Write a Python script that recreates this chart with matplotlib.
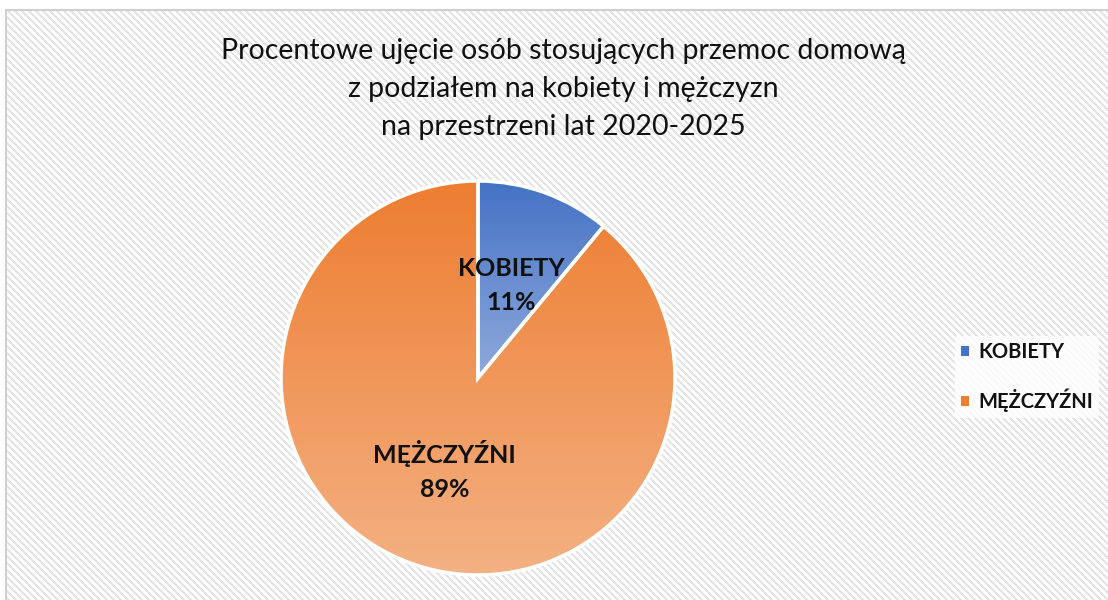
import numpy as np
import matplotlib
matplotlib.use('Agg')
import matplotlib.pyplot as plt
from matplotlib.lines import Line2D
from matplotlib.colors import to_rgb

plt.rcParams['font.family'] = ['Lato', 'DejaVu Sans']

# data
categories = ['KOBIETY', 'MĘŻCZYŹNI']
values = [11, 89]
top_colors = ['#4472C4', '#ED7D31']
bottom_colors = ['#8FAADC', '#F4B183']
title = ('Procentowe ujęcie osób stosujących przemoc domową\n'
         'z podziałem na kobiety i mężczyzn\n'
         'na przestrzeni lat 2020-2025')

W, H = 1108, 600
fig = plt.figure(figsize=(W / 100, H / 100), dpi=100)
fig.patch.set_facecolor('white')

# hatched chart-area background (starts at x=6, y=10)
bx, by = 6, 10
yy, xx = np.mgrid[0:H - by, 0:W - bx]
stripe = ((xx - yy) % 7) < 3
bg = np.ones((H - by, W - bx, 3))
bg[stripe] = to_rgb('#e4e4e4')
fig.figimage(bg, xo=bx, yo=0, origin='upper', zorder=-5)
fig.add_artist(Line2D([bx / W, 1], [1 - by / H, 1 - by / H], color='#d0d0d0', lw=1.5,
                      transform=fig.transFigure, zorder=-4))
fig.add_artist(Line2D([bx / W, bx / W], [0, 1 - by / H], color='#d0d0d0', lw=1.5,
                      transform=fig.transFigure, zorder=-4))

# pie axes
cx, cy, r = 478, 378, 197
ax = fig.add_axes([(cx - r) / W, (H - cy - r) / H, 2 * r / W, 2 * r / H])
ax.set_facecolor('none')
ax.set_axis_off()

wedges, _ = ax.pie(values, startangle=90, counterclock=False, radius=1,
                   colors=top_colors,
                   wedgeprops=dict(edgecolor='white', linewidth=2.5))

for w, c0, c1, lab, v in zip(wedges, top_colors, bottom_colors, categories, values):
    ext = w.get_path().get_extents()
    t = np.linspace(0, 1, 256)[:, None]
    grad = (1 - t) * np.array(to_rgb(c0)) + t * np.array(to_rgb(c1))
    im = ax.imshow(grad[:, None, :], extent=[ext.x0, ext.x1, ext.y0, ext.y1],
                   origin='upper', aspect='auto', zorder=1, interpolation='bilinear')
    im.set_clip_path(w)
    w.set_facecolor('none')
    w.set_zorder(2)
    ang = np.deg2rad((w.theta1 + w.theta2) / 2)
    ax.text(0.5 * np.cos(ang), 0.5 * np.sin(ang), f'{lab}\n{v}%', ha='center', va='center',
            fontsize=18, fontweight='bold', color='#111111', linespacing=1.55, zorder=3)

ax.set_xlim(-1.0, 1.0)
ax.set_ylim(-1.0, 1.0)

fig.text(563 / W, 1 - 89 / H, title, ha='center', va='center', fontsize=20.5,
         color='#111111', linespacing=1.55)

handles = [plt.Rectangle((0, 0), 1, 1, facecolor=c, edgecolor='none') for c in top_colors]
leg = fig.legend(handles, categories, loc='center left', bbox_to_anchor=(945 / W, 1 - 377 / H),
                 frameon=True, handlelength=0.4, handleheight=0.4, handletextpad=0.45,
                 labelspacing=1.3, prop={'size': 14.5, 'weight': 'bold'}, borderpad=0.3)
leg.get_frame().set_facecolor('white')
leg.get_frame().set_edgecolor('none')
leg.get_frame().set_alpha(0.8)
for tx in leg.get_texts():
    tx.set_color('#111111')

fig.savefig('out.png', dpi=100)
